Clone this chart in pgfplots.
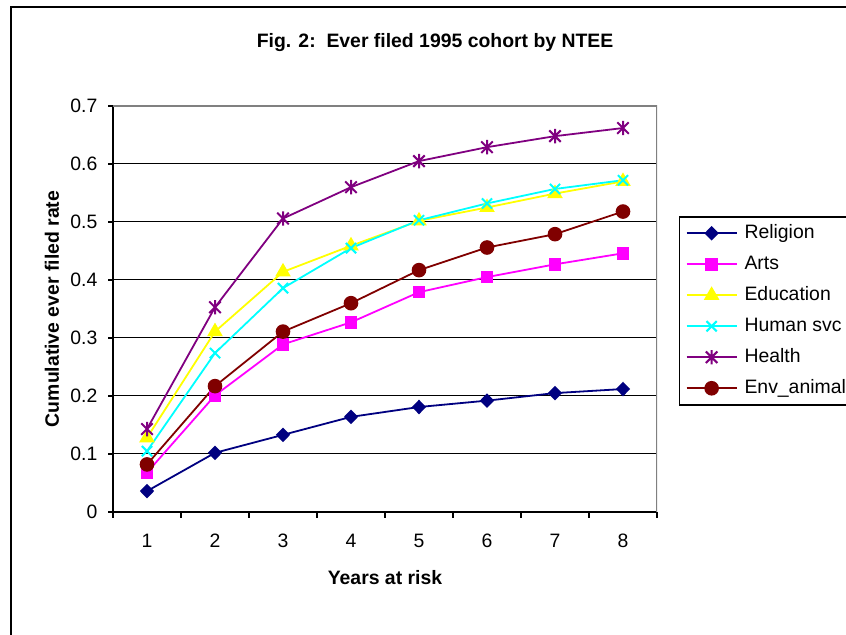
\documentclass[border=0pt]{standalone}
\usepackage{fontspec}
\setmainfont{Liberation Sans}
\usepackage{pgfplots}
\pgfplotsset{compat=1.18}

\definecolor{religion}{RGB}{0,0,128}
\definecolor{arts}{RGB}{255,0,255}
\definecolor{educ}{RGB}{255,255,0}
\definecolor{humsvc}{RGB}{0,255,255}
\definecolor{health}{RGB}{128,0,128}
\definecolor{envan}{RGB}{128,0,0}
\definecolor{plotgray}{RGB}{128,128,128}

% Excel style star: an x with a vertical bar through it
\pgfdeclareplotmark{xstar}{%
  \pgfpathmoveto{\pgfqpoint{0pt}{\pgfplotmarksize}}%
  \pgfpathlineto{\pgfqpoint{0pt}{-\pgfplotmarksize}}%
  \pgfpathmoveto{\pgfqpoint{-.8\pgfplotmarksize}{.8\pgfplotmarksize}}%
  \pgfpathlineto{\pgfqpoint{.8\pgfplotmarksize}{-.8\pgfplotmarksize}}%
  \pgfpathmoveto{\pgfqpoint{-.8\pgfplotmarksize}{-.8\pgfplotmarksize}}%
  \pgfpathlineto{\pgfqpoint{.8\pgfplotmarksize}{.8\pgfplotmarksize}}%
  \pgfusepathqstroke}

\begin{document}
\begin{tikzpicture}[font=\fontsize{9.7}{11.6}\selectfont]
  \useasboundingbox (0,0) rectangle (423pt,317.5pt);
  % outer chart frame (runs past the right and bottom edges)
  \draw[line width=1pt] (5.5pt,-20pt) -- (5.5pt,313.75pt) -- (440pt,313.75pt);
  \begin{axis}[
      at={(56.5pt,61.5pt)}, anchor=south west,
      scale only axis, width=272pt, height=203pt,
      xmin=0.5, xmax=8.5, ymin=0, ymax=0.7,
      axis lines=left,
      axis line style={-, line width=1pt},
      xtick={1,...,8},
      minor xtick={0.5,1.5,...,8.5},
      major x tick style={draw=none},
      minor x tick style={line width=0.6pt, black},
      minor tick length=3pt,
      ytick={0,0.1,0.2,0.3,0.4,0.5,0.6,0.7},
      y tick style={line width=0.6pt, black},
      major tick length=2.5pt,
      tick align=outside,
      ymajorgrids,
      grid style={black, line width=0.5pt},
      /pgf/number format/assume math mode=true,
      yticklabel style={/pgf/number format/fixed, /pgf/number format/precision=1, xshift=-1.8pt},
      xticklabel style={yshift=-5pt},
      title={\bfseries Fig. 2:\ \ Ever filed 1995 cohort by NTEE},
      title style={at={(axis description cs:0.592,1.1257)}, anchor=center, yshift=0pt},
      xlabel={\bfseries Years at risk},
      xlabel style={at={(axis description cs:0.5,-0.1626)}, anchor=center},
      ylabel={\bfseries Cumulative ever filed rate},
      ylabel style={at={(axis description cs:-0.1121,0.5)}, anchor=center},
      legend style={at={(axis description cs:1.0404,0.729)}, anchor=north west,
        draw=black, line width=0.75pt, inner xsep=3pt, inner ysep=3.75pt,
        row sep=6.5pt,
        nodes={inner sep=0pt, text height=7pt, text depth=2pt},
        /tikz/every odd column/.append style={column sep=3.5pt}},
      legend cell align=left,
      legend image code/.code={%
        \draw[mark repeat=2, mark phase=2] plot coordinates {(0pt,0pt) (12.5pt,0pt) (25pt,0pt)};},
      every axis plot/.append style={line width=0.9pt},
    ]
    \addplot[religion, mark=diamond*, mark size=3pt, mark options={xscale=1.3, solid}]
      coordinates {(1,0.036) (2,0.102) (3,0.133) (4,0.164) (5,0.181) (6,0.192) (7,0.205) (8,0.212)};
    \addlegendentry{Religion}
    \addplot[arts, mark=square*, mark size=2.7pt, mark options={fill=arts}]
      coordinates {(1,0.068) (2,0.201) (3,0.289) (4,0.327) (5,0.379) (6,0.405) (7,0.427) (8,0.446)};
    \addlegendentry{Arts}
    \addplot[educ, mark=triangle*, mark size=3.6pt]
      coordinates {(1,0.128) (2,0.311) (3,0.414) (4,0.459) (5,0.502) (6,0.525) (7,0.549) (8,0.570)};
    \addlegendentry{Education}
    \addplot[humsvc, mark=x, mark size=3.6pt, mark options={line width=1pt}]
      coordinates {(1,0.105) (2,0.274) (3,0.386) (4,0.455) (5,0.503) (6,0.532) (7,0.557) (8,0.572)};
    \addlegendentry{Human svc}
    \addplot[health, mark=xstar, mark size=3.6pt, mark options={line width=1pt}]
      coordinates {(1,0.143) (2,0.353) (3,0.506) (4,0.560) (5,0.605) (6,0.629) (7,0.648) (8,0.662)};
    \addlegendentry{Health}
    \addplot[envan, mark=*, mark size=3.2pt]
      coordinates {(1,0.082) (2,0.217) (3,0.311) (4,0.360) (5,0.417) (6,0.456) (7,0.479) (8,0.518)};
    \addlegendentry{Env\_animal}
    % grey plot-area border on top and right, as in the original
    \draw[plotgray, line width=1pt] (rel axis cs:0,1) -- (rel axis cs:1,1) -- (rel axis cs:1,0);
  \end{axis}
\end{tikzpicture}
\end{document}
